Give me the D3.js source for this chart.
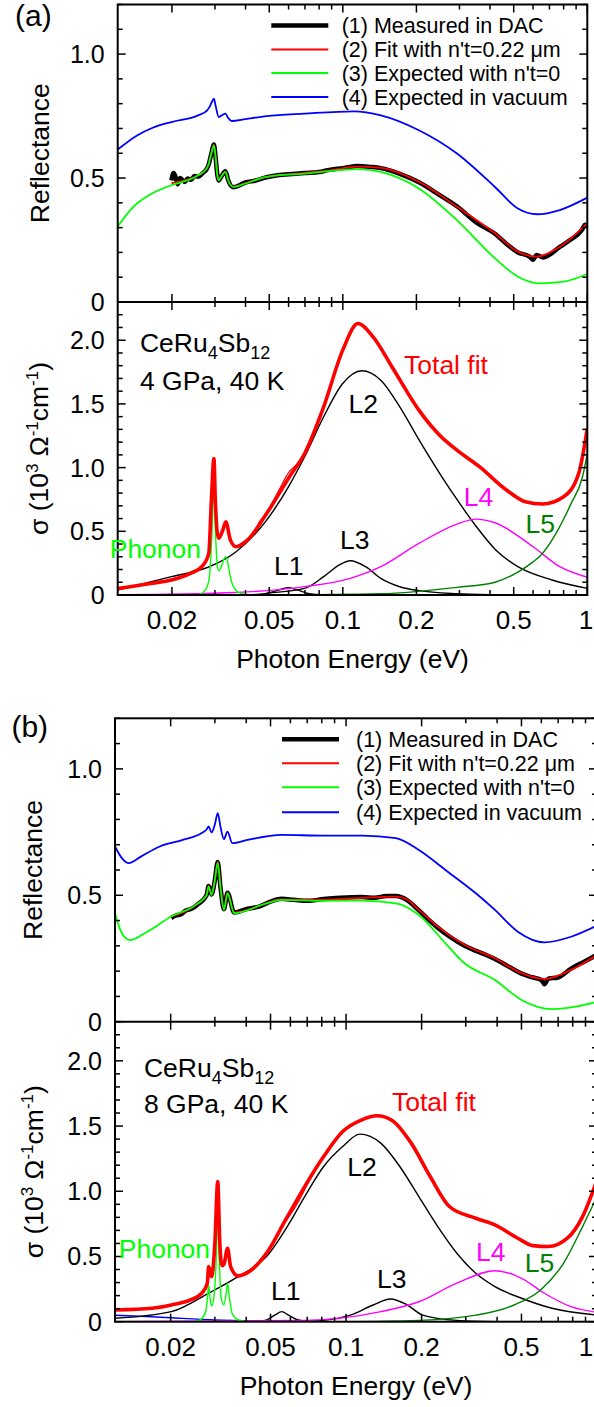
<!DOCTYPE html>
<html lang="en">
<head>
<meta charset="UTF-8">
<title>CeRu4Sb12 reflectance and conductivity</title>
<script src="https://cdn.jsdelivr.net/npm/d3@7/dist/d3.min.js"></script>
<style>
  body { margin: 0; background: #fff; }
  svg { font-family: "Liberation Sans", Arial, sans-serif; }
</style>
</head>
<body>
<svg width="594" height="1407"></svg>
<script>
// ---------- axes ----------
var xDomain = [0.012, 1];
var xTickValues = [0.02,0.03,0.04,0.05,0.06,0.07,0.08,0.09,0.1,0.2,0.3,0.4,0.5,0.6,0.7,0.8,0.9,1];
var xMajorValues = [0.02,0.05,0.1,0.2,0.5,1];
var xTickLabels = ['0.02','0.05','0.1','0.2','0.5','1'];
var reflMinorTicks = [0,0.1,0.2,0.3,0.4,0.5,0.6,0.7,0.8,0.9,1.0,1.1,1.2];
var reflMajorTicks = [0,0.5,1.0];
var reflTickLabels = ['0','0.5','1.0'];
var sigMinorTicks = [0,0.1,0.2,0.3,0.4,0.5,0.6,0.7,0.8,0.9,1.0,1.1,1.2,1.3,1.4,1.5,1.6,1.7,1.8,1.9,2.0,2.1,2.2,2.3];
var sigMajorTicks = [0,0.5,1.0,1.5,2.0];
var sigTickLabels = ['0','0.5','1.0','1.5','2.0'];
var legendNames = ['(1) Measured in DAC', '(2) Fit with n\'t=0.22 \u03bcm', '(3) Expected with n\'t=0', '(4) Expected in vacuum'];

// ---------- (a) 4 GPa : reflectance [eV, R] ----------
var aMeasured = [[0.0199,0.49],[0.0203,0.52],[0.0207,0.505],[0.0211,0.475],[0.0216,0.5],[0.0221,0.492],[0.0226,0.484],[0.0232,0.498],[0.024,0.493],[0.0247,0.508],[0.0256,0.505],[0.0266,0.518],[0.0278,0.538],[0.0283,0.556],[0.029,0.6],[0.0297,0.635],[0.0302,0.58],[0.0307,0.51],[0.0311,0.49],[0.0318,0.505],[0.0331,0.527],[0.034,0.49],[0.0356,0.463],[0.04,0.482],[0.044,0.49],[0.0488,0.503],[0.055,0.512],[0.06,0.515],[0.0698,0.52],[0.08,0.524],[0.087,0.532],[0.1,0.54],[0.1153,0.549],[0.13,0.545],[0.143,0.54],[0.17,0.518],[0.2047,0.483],[0.25,0.43],[0.293,0.386],[0.35,0.322],[0.419,0.275],[0.47,0.232],[0.52,0.2],[0.58,0.183],[0.6,0.17],[0.62,0.19],[0.66,0.18],[0.772,0.222],[0.85,0.25],[0.95,0.29],[0.98,0.312],[1.0,0.305]];
var aFit = [[0.0199,0.479],[0.0256,0.511],[0.0278,0.54],[0.0283,0.558],[0.029,0.6],[0.0297,0.635],[0.0302,0.58],[0.0307,0.51],[0.0311,0.491],[0.0318,0.505],[0.0331,0.527],[0.034,0.49],[0.0356,0.465],[0.04,0.48],[0.0488,0.505],[0.0698,0.521],[0.087,0.53],[0.1153,0.546],[0.143,0.541],[0.2047,0.485],[0.293,0.384],[0.419,0.277],[0.52,0.203],[0.6225,0.183],[0.772,0.223],[1.0,0.317]];
var aNoLayer = [[0.012,0.305],[0.0139,0.384],[0.0166,0.438],[0.0199,0.471],[0.0256,0.511],[0.0278,0.54],[0.0283,0.558],[0.029,0.6],[0.0297,0.632],[0.0302,0.58],[0.0307,0.51],[0.0311,0.491],[0.0318,0.505],[0.0331,0.525],[0.034,0.49],[0.0356,0.464],[0.04,0.478],[0.0488,0.505],[0.0698,0.518],[0.1153,0.536],[0.143,0.525],[0.2047,0.458],[0.293,0.33],[0.419,0.176],[0.52,0.102],[0.644,0.075],[0.8,0.082],[1.0,0.113]];
var aVacuum = [[0.012,0.615],[0.0144,0.672],[0.0166,0.702],[0.0199,0.726],[0.0256,0.753],[0.0278,0.772],[0.0285,0.787],[0.0293,0.812],[0.0297,0.82],[0.0302,0.79],[0.0311,0.746],[0.0322,0.755],[0.0331,0.76],[0.034,0.742],[0.0351,0.73],[0.04,0.738],[0.0488,0.75],[0.0698,0.76],[0.1112,0.769],[0.143,0.753],[0.2047,0.693],[0.293,0.599],[0.419,0.464],[0.52,0.377],[0.6225,0.354],[0.772,0.371],[1.0,0.421]];

// ---------- (a) 4 GPa : conductivity [eV, 10^3 /Ohm cm] ----------
var aTotal = [[0.012,0.05],[0.0166,0.092],[0.0199,0.118],[0.0238,0.17],[0.0265,0.222],[0.0283,0.327],[0.029,0.745],[0.0297,1.072],[0.0301,0.745],[0.0306,0.5],[0.0311,0.445],[0.0323,0.51],[0.0332,0.575],[0.0347,0.431],[0.0366,0.379],[0.0407,0.431],[0.0488,0.64],[0.0605,0.928],[0.0698,1.111],[0.0835,1.477],[0.0999,1.922],[0.1153,2.131],[0.133,2.026],[0.159,1.79],[0.2047,1.451],[0.25,1.25],[0.293,1.137],[0.363,1.006],[0.467,0.824],[0.558,0.732],[0.656,0.714],[0.8,0.771],[0.922,0.954],[1.0,1.307]];
var aSigmaData = [[0.045,0.56],[0.05,0.68],[0.055,0.83],[0.06,0.96],[0.065,1.03],[0.07,1.12],[0.08,1.4]];
var aL1 = [[0.04,0],[0.048,0.01],[0.055,0.04],[0.0598,0.058],[0.065,0.04],[0.072,0.012],[0.08,0.003],[0.1,0]];
var aL2 = [[0.012,0.039],[0.0199,0.144],[0.0285,0.222],[0.0366,0.34],[0.0488,0.588],[0.0605,0.863],[0.0698,1.085],[0.0835,1.399],[0.0999,1.66],[0.1196,1.76],[0.143,1.686],[0.171,1.477],[0.2047,1.22],[0.2538,0.93],[0.293,0.75],[0.3507,0.54],[0.4193,0.36],[0.52,0.222],[0.718,0.118],[1.0,0.052]];
var aL3 = [[0.0488,0.015],[0.0698,0.052],[0.0835,0.144],[0.0964,0.235],[0.1073,0.269],[0.124,0.222],[0.143,0.131],[0.171,0.065],[0.2047,0.034],[0.293,0.01],[0.4,0.003]];
var aL4 = [[0.012,0.002],[0.034,0.018],[0.0698,0.066],[0.1073,0.131],[0.143,0.222],[0.2047,0.405],[0.293,0.557],[0.3507,0.596],[0.4193,0.567],[0.6,0.379],[0.772,0.222],[1.0,0.139]];
var aL5 = [[0.0488,0],[0.143,0.01],[0.293,0.06],[0.4193,0.1],[0.52,0.18],[0.6,0.26],[0.644,0.31],[0.745,0.484],[0.859,0.719],[0.956,0.928],[1.0,1.111]];
var aPhonon = [[0.012,0],[0.0255,0],[0.0268,0.02],[0.0278,0.06],[0.0285,0.15],[0.0291,0.45],[0.0297,0.82],[0.0302,0.45],[0.0307,0.22],[0.0311,0.19],[0.0318,0.22],[0.0326,0.28],[0.0332,0.3],[0.0338,0.26],[0.0346,0.15],[0.0356,0.07],[0.038,0.015],[0.042,0]];

// ---------- (b) 8 GPa : reflectance ----------
var bMeasured = [[0.0201,0.41],[0.021,0.42],[0.022,0.425],[0.023,0.44],[0.024,0.445],[0.025,0.455],[0.0257,0.465],[0.0278,0.5],[0.02834,0.537],[0.0291,0.503],[0.03,0.56],[0.0308,0.632],[0.0316,0.53],[0.0326,0.445],[0.0337,0.51],[0.0358,0.432],[0.0405,0.447],[0.045,0.455],[0.05,0.475],[0.0554,0.486],[0.062,0.482],[0.07,0.478],[0.0814,0.485],[0.095,0.49],[0.1155,0.493],[0.13,0.49],[0.145,0.497],[0.158,0.497],[0.1756,0.48],[0.195,0.44],[0.21,0.41],[0.232,0.372],[0.26,0.335],[0.2966,0.3],[0.33,0.28],[0.36,0.265],[0.392,0.248],[0.45,0.215],[0.5005,0.19],[0.55,0.176],[0.6,0.165],[0.617,0.148],[0.64,0.17],[0.7,0.175],[0.788,0.21],[0.9,0.24],[1.0,0.265]];
var bFit = [[0.0201,0.416],[0.0257,0.468],[0.0278,0.5],[0.02834,0.537],[0.0291,0.503],[0.03,0.56],[0.0308,0.632],[0.0316,0.53],[0.0326,0.445],[0.0337,0.51],[0.0358,0.432],[0.0405,0.442],[0.0554,0.484],[0.0814,0.482],[0.1155,0.49],[0.158,0.495],[0.1756,0.482],[0.195,0.442],[0.232,0.376],[0.2966,0.304],[0.392,0.251],[0.5005,0.192],[0.617,0.169],[0.788,0.205],[1.0,0.264]];
var bNoLayer = [[0.012,0.429],[0.01278,0.35],[0.0138,0.323],[0.01576,0.35],[0.0201,0.416],[0.0257,0.468],[0.0278,0.5],[0.02834,0.534],[0.0291,0.501],[0.03,0.56],[0.0308,0.629],[0.0316,0.53],[0.0326,0.442],[0.0337,0.508],[0.0358,0.429],[0.0482,0.468],[0.0554,0.482],[0.0814,0.478],[0.1155,0.479],[0.158,0.468],[0.195,0.422],[0.249,0.31],[0.2966,0.231],[0.392,0.165],[0.5005,0.086],[0.662,0.05],[0.845,0.062],[1.0,0.079]];
var bVacuum = [[0.012,0.693],[0.01278,0.647],[0.0136,0.627],[0.01522,0.653],[0.0181,0.693],[0.02235,0.719],[0.0266,0.746],[0.0278,0.76],[0.02834,0.772],[0.0291,0.748],[0.03,0.78],[0.0308,0.825],[0.0316,0.77],[0.0326,0.722],[0.0337,0.752],[0.0352,0.706],[0.0405,0.719],[0.0554,0.739],[0.0814,0.736],[0.1155,0.736],[0.158,0.726],[0.195,0.679],[0.249,0.6],[0.329,0.508],[0.392,0.442],[0.4835,0.356],[0.617,0.314],[0.788,0.336],[1.0,0.38]];

// ---------- (b) 8 GPa : conductivity ----------
var bTotal = [[0.012,0.09],[0.0169,0.103],[0.0201,0.128],[0.024,0.167],[0.0266,0.218],[0.028,0.295],[0.02834,0.422],[0.0291,0.345],[0.03,0.6],[0.0308,1.074],[0.0314,0.6],[0.032,0.43],[0.0326,0.44],[0.0337,0.563],[0.0347,0.42],[0.0371,0.351],[0.0405,0.376],[0.0482,0.525],[0.0574,0.78],[0.0684,1.036],[0.0814,1.266],[0.0969,1.458],[0.1155,1.548],[0.1327,1.579],[0.1526,1.543],[0.1818,1.369],[0.2164,1.113],[0.258,0.883],[0.329,0.793],[0.392,0.742],[0.4835,0.64],[0.556,0.583],[0.639,0.576],[0.762,0.64],[0.876,0.806],[1.0,1.087]];
var bSigmaData = [[0.045,0.47],[0.05,0.57],[0.055,0.72],[0.06,0.82],[0.065,0.93],[0.07,1.05],[0.08,1.25]];
var bDrude = [[0.012,0.05],[0.016,0.04],[0.02,0.03],[0.03,0.013],[0.045,0.004],[0.06,0]];
var bL1 = [[0.042,0],[0.048,0.012],[0.052,0.05],[0.0554,0.077],[0.059,0.05],[0.064,0.015],[0.072,0]];
var bL2 = [[0.012,0.026],[0.0201,0.077],[0.0283,0.218],[0.0371,0.345],[0.0482,0.499],[0.0594,0.755],[0.0684,0.959],[0.0814,1.19],[0.0969,1.343],[0.1135,1.438],[0.1375,1.369],[0.1637,1.19],[0.195,0.959],[0.232,0.729],[0.2764,0.525],[0.329,0.371],[0.392,0.269],[0.5005,0.18],[0.662,0.103],[1.0,0.051]];
var bL3 = [[0.06,0],[0.0814,0.01],[0.1039,0.051],[0.1282,0.128],[0.15,0.174],[0.1756,0.128],[0.2018,0.051],[0.2764,0.01],[0.4,0]];
var bL4 = [[0.012,0],[0.0684,0.01],[0.1375,0.077],[0.195,0.153],[0.2764,0.295],[0.392,0.391],[0.5005,0.333],[0.617,0.218],[0.788,0.115],[1.0,0.072]];
var bL5 = [[0.0969,0],[0.195,0.01],[0.329,0.05],[0.467,0.128],[0.596,0.243],[0.735,0.448],[0.876,0.729],[1.0,0.959]];
var bPhonon = [[0.012,0],[0.025,0],[0.0265,0.02],[0.0276,0.08],[0.028,0.18],[0.02834,0.28],[0.0287,0.18],[0.0291,0.12],[0.0298,0.2],[0.0304,0.5],[0.0308,0.85],[0.0312,0.5],[0.0318,0.18],[0.0326,0.13],[0.0333,0.22],[0.0337,0.295],[0.0342,0.2],[0.0352,0.06],[0.037,0.015],[0.04,0]];

// label anchors in data units [text, eV, sigma, colour]
var aLabels = [['Total fit',0.178,1.733,'#ff0000'],['L2',0.1054,1.425,'#000'],['L4',0.3125,0.70,'#ff00ff'],['L5',0.5586,0.484,'#008000'],['L3',0.0974,0.358,'#000'],['L1',0.0523,0.157,'#000'],['Phonon',0.01113,0.288,'#00ff00']];
var bLabels = [['Total fit',0.1524,1.619,'#ff0000'],['L2',0.1011,1.12,'#000'],['L4',0.3293,0.468,'#ff00ff'],['L5',0.515,0.384,'#008000'],['L3',0.1327,0.256,'#000'],['L1',0.0502,0.167,'#000'],['Phonon',0.01242,0.487,'#00ff00']];

var svg = d3.select('svg');
var svgWidth = +svg.attr('width');

function drawPanel(p) {
    var x = d3.scaleLog().domain(xDomain).range([p.left, p.right]);
    var yR = d3.scaleLinear().domain([0, 1.2]).range([p.mid, p.top]);
    var yS = d3.scaleLinear().domain([0, 2.3]).range([p.bottom, p.mid]);
    var g = svg.append('g');

    // clip regions
    var defs = svg.append('defs');
    defs.append('clipPath').attr('id', p.id + 'R').append('rect')
        .attr('x', p.left).attr('y', p.top).attr('width', p.right - p.left).attr('height', p.mid - p.top);
    defs.append('clipPath').attr('id', p.id + 'S').append('rect')
        .attr('x', p.left).attr('y', p.mid).attr('width', p.right - p.left).attr('height', p.bottom - p.mid);

    var lineR = d3.line().x(function (d) { return x(d[0]); }).y(function (d) { return yR(d[1]); }).curve(d3.curveMonotoneX);
    var lineS = d3.line().x(function (d) { return x(d[0]); }).y(function (d) { return yS(d[1]); }).curve(d3.curveMonotoneX);

    var gR = g.append('g').attr('clip-path', 'url(#' + p.id + 'R)');
    var gS = g.append('g').attr('clip-path', 'url(#' + p.id + 'S)');

    // reflectance curves
    [[p.measured, '#000', 4.5], [p.fit, '#ff0000', 1.8], [p.noLayer, '#00ff00', 1.8], [p.vacuum, '#0000ff', 1.8]]
        .forEach(function (c) {
            gR.append('path').attr('d', lineR(c[0])).attr('fill', 'none')
                .attr('stroke', c[1]).attr('stroke-width', c[2]).attr('stroke-linejoin', 'round');
        });

    // conductivity curves
    var sc = [[p.L2, '#000', 1.4], [p.L3, '#000', 1.4], [p.L1, '#000', 1.4], [p.L4, '#ff00ff', 1.4],
              [p.L5, '#008000', 1.4], [p.phonon, '#00ff00', 1.4]];
    if (p.drude) sc.unshift([p.drude, '#0000ff', 1.4]);
    sc.push([p.sigmaData, '#ff0000', 1.2]);
    sc.push([p.total, '#ff0000', 3.6]);
    sc.forEach(function (c) {
        gS.append('path').attr('d', lineS(c[0])).attr('fill', 'none')
            .attr('stroke', c[1]).attr('stroke-width', c[2]).attr('stroke-linejoin', 'round');
    });

    // frame
    g.append('rect').attr('x', p.left).attr('y', p.top).attr('width', p.right - p.left)
        .attr('height', p.bottom - p.top).attr('fill', 'none').attr('stroke', '#000').attr('stroke-width', 2);
    g.append('line').attr('x1', p.left).attr('x2', p.right).attr('y1', p.mid).attr('y2', p.mid)
        .attr('stroke', '#000').attr('stroke-width', 2);

    // x ticks
    var tk = g.append('g').attr('stroke', '#000').attr('stroke-width', 1.5);
    xTickValues.forEach(function (v) {
        var L = xMajorValues.indexOf(v) >= 0 ? 8 : 5;
        var xx = x(v);
        tk.append('line').attr('x1', xx).attr('x2', xx).attr('y1', p.top).attr('y2', p.top + L);
        tk.append('line').attr('x1', xx).attr('x2', xx).attr('y1', p.mid - L).attr('y2', p.mid + L);
        tk.append('line').attr('x1', xx).attr('x2', xx).attr('y1', p.bottom).attr('y2', p.bottom - L);
    });
    // y ticks
    function yTicks(scale, minor, major) {
        minor.forEach(function (v) {
            var L = major.indexOf(v) >= 0 ? 8 : 5;
            var yy = scale(v);
            tk.append('line').attr('x1', p.left).attr('x2', p.left + L).attr('y1', yy).attr('y2', yy);
            tk.append('line').attr('x1', p.right).attr('x2', p.right - L).attr('y1', yy).attr('y2', yy);
        });
    }
    yTicks(yR, reflMinorTicks, reflMajorTicks);
    yTicks(yS, sigMinorTicks, sigMajorTicks);

    // tick labels
    var lab = g.append('g').attr('fill', '#000');
    xMajorValues.forEach(function (v, i) {
        // keep the last label inside the window
        var xx = Math.min(x(v), svgWidth - 8);
        lab.append('text').attr('x', xx).attr('y', p.bottom + 34).attr('font-size', 26)
            .attr('text-anchor', 'middle').text(xTickLabels[i]);
    });
    reflMajorTicks.forEach(function (v, i) {
        lab.append('text').attr('x', p.left - 13).attr('y', yR(v) + 9).attr('font-size', 25)
            .attr('text-anchor', 'end').text(reflTickLabels[i]);
    });
    sigMajorTicks.forEach(function (v, i) {
        lab.append('text').attr('x', p.left - 13).attr('y', yS(v) + 9).attr('font-size', 25)
            .attr('text-anchor', 'end').text(sigTickLabels[i]);
    });

    // axis titles
    g.append('text').attr('x', (p.left + p.right) / 2).attr('y', p.bottom + 73)
        .attr('text-anchor', 'middle').attr('font-size', 26.5).text('Photon Energy (eV)');
    g.append('text').attr('transform', 'translate(' + p.ylabR + ',' + ((p.top + p.mid) / 2) + ') rotate(-90)')
        .attr('text-anchor', 'middle').attr('font-size', 26.5).text('Reflectance');
    var st = g.append('text').attr('transform', 'translate(' + p.ylabS + ',' + ((p.mid + p.bottom) / 2) + ') rotate(-90)')
        .attr('text-anchor', 'middle').attr('font-size', 26.5);
    st.append('tspan').text('\u03c3 (10');
    st.append('tspan').attr('dy', -10).attr('font-size', 17).text('3');
    st.append('tspan').attr('dy', 10).text(' \u03a9');
    st.append('tspan').attr('dy', -10).attr('font-size', 17).text('-1');
    st.append('tspan').attr('dy', 10).text('cm');
    st.append('tspan').attr('dy', -10).attr('font-size', 17).text('-1');
    st.append('tspan').attr('dy', 10).text(')');

    // panel letter
    g.append('text').attr('x', p.letterX).attr('y', p.letterY).attr('font-size', 30).text(p.letter);

    // legend
    var lg = g.append('g');
    var legendStyle = [['#000', 4.5], ['#ff0000', 2], ['#00ff00', 2], ['#0000ff', 2]];
    legendNames.forEach(function (name, i) {
        var yy = p.top + p.legendRows[i];
        lg.append('line').attr('x1', p.legendLine).attr('x2', p.legendLine + 57).attr('y1', yy).attr('y2', yy)
            .attr('stroke', legendStyle[i][0]).attr('stroke-width', legendStyle[i][1]);
        lg.append('text').attr('x', p.legendText).attr('y', yy + 7.5).attr('font-size', 21.5).text(name);
    });

    // sample annotation
    var s1 = g.append('text').attr('x', x(p.sample[0])).attr('y', yS(p.sample[1])).attr('font-size', 26.5);
    s1.append('tspan').text('CeRu');
    s1.append('tspan').attr('dy', 7).attr('font-size', 18).text('4');
    s1.append('tspan').attr('dy', -7).text('Sb');
    s1.append('tspan').attr('dy', 7).attr('font-size', 18).text('12');
    g.append('text').attr('x', x(p.sample[0])).attr('y', yS(p.sample[2])).attr('font-size', 26.5).text(p.condition);

    // component labels
    p.labels.forEach(function (l) {
        g.append('text').attr('x', x(l[1])).attr('y', yS(l[2])).attr('font-size', 26.5).attr('fill', l[3]).text(l[0]);
    });
}

drawPanel({
    id: 'pa', letter: '(a)', letterX: 15, letterY: 26,
    left: 117.7, right: 587.3, top: 4.5, mid: 302, bottom: 595,
    ylabR: 48.5, ylabS: 48,
    legendLine: 271.3, legendText: 341.7, legendRows: [21, 45, 68.5, 92.5],
    measured: aMeasured, fit: aFit, noLayer: aNoLayer, vacuum: aVacuum,
    total: aTotal, sigmaData: aSigmaData, L1: aL1, L2: aL2, L3: aL3, L4: aL4, L5: aL5, phonon: aPhonon,
    sample: [0.0148, 1.908, 1.613], condition: '4 GPa, 40 K', labels: aLabels
});

drawPanel({
    id: 'pb', letter: '(b)', letterX: 11.4, letterY: 737,
    left: 115, right: 597, top: 718.3, mid: 1021.7, bottom: 1321.7,
    ylabR: 42, ylabS: 43,
    legendLine: 282, legendText: 356, legendRows: [21, 45, 69, 94],
    measured: bMeasured, fit: bFit, noLayer: bNoLayer, vacuum: bVacuum,
    total: bTotal, sigmaData: bSigmaData, drude: bDrude, L1: bL1, L2: bL2, L3: bL3, L4: bL4, L5: bL5, phonon: bPhonon,
    sample: [0.01565, 1.876, 1.599], condition: '8 GPa, 40 K', labels: bLabels
});
</script>
</body>
</html>
